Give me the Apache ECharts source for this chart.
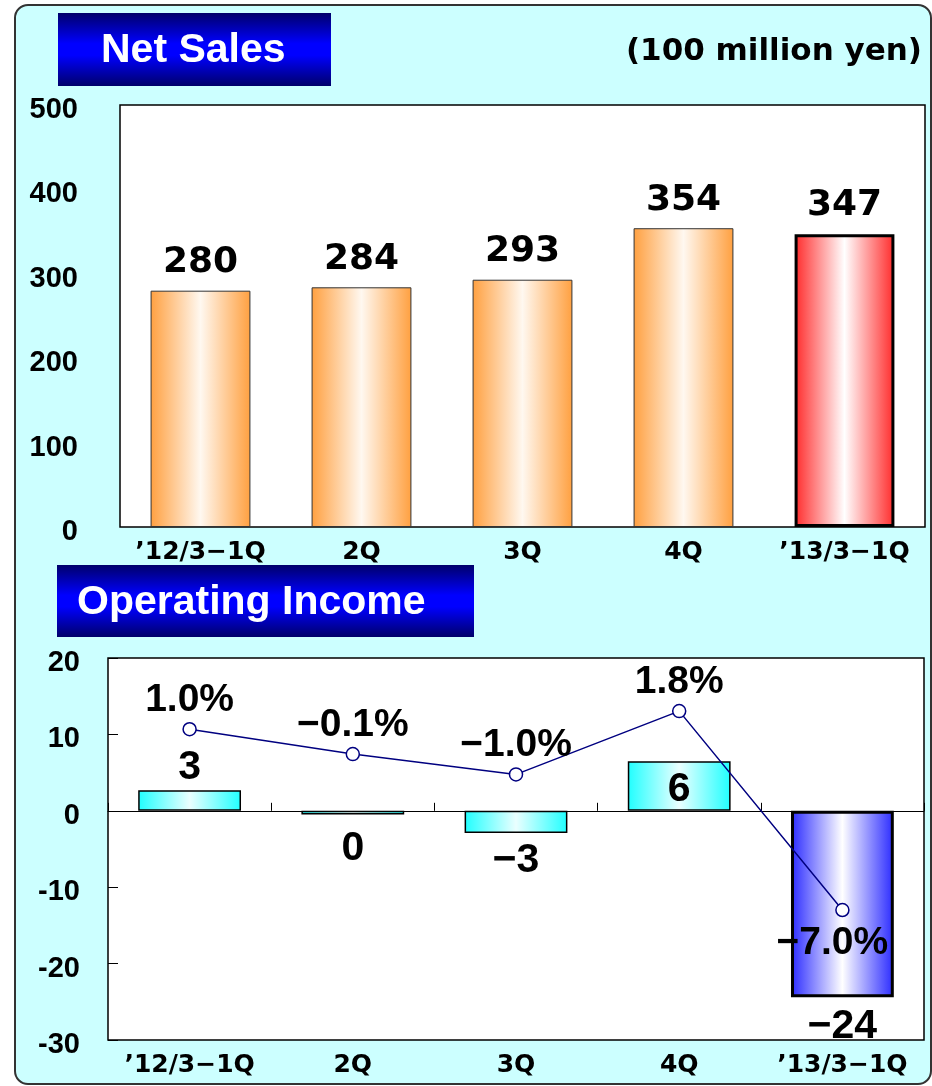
<!DOCTYPE html>
<html>
<head>
<meta charset="utf-8">
<script src="https://cdn.jsdelivr.net/npm/echarts@6/dist/echarts.min.js"></script>
<style>
  html, body { margin: 0; padding: 0; background: #fff; }
  #bg {
    position: absolute; left: 14px; top: 4px; width: 914px; height: 1077px;
    border: 2px solid #333; border-radius: 14px; background: #ccffff;
  }
  #main { position: absolute; left: 0; top: 0; width: 932px; height: 1086px; }
</style>
</head>
<body>
<div id="bg"></div>
<div id="main"></div>
<script>
// categories shared by both panels
const categories = ['’12/3−1Q', '2Q', '3Q', '4Q', '’13/3−1Q']
// net sales, 100 million yen
const netSales = [280, 284, 293, 354, 347]
// operating income, 100 million yen (bar heights) and printed labels
const opIncome = [2.7, -0.5, -2.9, 6.5, -24.4]
const opIncomeLabels = ['3', '0', '−3', '6', '−24']
// operating margin, %
const opMargin = [1.0, -0.1, -1.0, 1.8, -7.0]

const numFont = 'Liberation Sans'
const gothic = 'DejaVu Sans'

function hGrad(edge, mid) {
  return new echarts.graphic.LinearGradient(0, 0, 1, 0, [
    { offset: 0, color: edge },
    { offset: 0.5, color: mid },
    { offset: 1, color: edge }
  ])
}
function titleGrad() {
  return new echarts.graphic.LinearGradient(0, 0, 0, 1, [
    { offset: 0, color: '#00006a' },
    { offset: 0.42, color: '#0000ff' },
    { offset: 0.58, color: '#0000ff' },
    { offset: 1, color: '#00006a' }
  ])
}

// per-bar style for the sales chart, last one highlighted
const salesData = netSales.map((v, i) => {
  const last = i === netSales.length - 1
  return {
    value: v,
    itemStyle: last
      ? { color: hGrad('#ff2a2a', '#ffffff'), borderColor: '#000', borderWidth: 3 }
      : { color: hGrad('#ffa040', '#fff8f0'), borderColor: '#333', borderWidth: 1 }
  }
})

// label placement for the operating income bars
const incomeLabelPos = [
  { position: 'top', distance: 2 },
  { position: 'bottom', distance: 14 },
  { position: 'bottom', distance: 7 },
  { position: 'inside', offset: [0, 4] },
  { position: 'bottom', distance: 9 }
]
const incomeData = opIncome.map((v, i) => {
  const last = i === opIncome.length - 1
  return {
    value: v,
    label: Object.assign({ formatter: opIncomeLabels[i] }, incomeLabelPos[i]),
    itemStyle: last
      ? { color: hGrad('#2a2aff', '#ffffff'), borderColor: '#000', borderWidth: 3 }
      : { color: hGrad('#20ffff', '#eaffff'), borderColor: '#000', borderWidth: 1.5 }
  }
})

const marginData = opMargin.map((v, i) => {
  const last = i === opMargin.length - 1
  return {
    value: v,
    label: last
      ? { position: 'bottom', distance: 6, offset: [-10, 0] }
      : { position: 'top', distance: 2 }
  }
})

// y tick labels sit a few px below their tick
const yLabelRich = {
  v: { color: '#000', fontFamily: numFont, fontWeight: 'bold', fontSize: 29, padding: [10, 0, 0, 0] }
}

const chart = echarts.init(document.getElementById('main'))
chart.setOption({
  animation: false,
  backgroundColor: 'transparent',
  graphic: [
    { type: 'rect', shape: { x: 58, y: 13, width: 273, height: 73 }, style: { fill: titleGrad() } },
    { type: 'text', style: { text: 'Net Sales', x: 101, y: 51, fill: '#fff', font: 'bold 41px "Liberation Sans"', verticalAlign: 'middle' } },
    { type: 'text', style: { text: '(100 million yen)', x: 922, y: 52, fill: '#000', font: 'bold 31px "DejaVu Sans"', align: 'right', verticalAlign: 'middle' } },
    { type: 'rect', shape: { x: 57, y: 565, width: 417, height: 72 }, style: { fill: titleGrad() } },
    { type: 'text', style: { text: 'Operating Income', x: 77, y: 603, fill: '#fff', font: 'bold 41px "Liberation Sans"', verticalAlign: 'middle' } }
  ],
  grid: [
    { left: 120, top: 105, right: 7, height: 422, show: true, backgroundColor: '#fff', borderColor: '#000', borderWidth: 1.5 },
    { left: 108, top: 658, right: 8, height: 382, show: true, backgroundColor: '#fff', borderColor: '#000', borderWidth: 1.5 }
  ],
  xAxis: [
    {
      type: 'category', gridIndex: 0, data: categories,
      axisLine: { show: false }, axisTick: { show: false },
      axisLabel: { interval: 0, color: '#000', fontFamily: gothic, fontWeight: 'bold', fontSize: 25, margin: 13 }
    },
    {
      type: 'category', gridIndex: 1, data: categories, position: 'bottom',
      axisLine: { show: false, onZero: false }, axisTick: { show: false },
      axisLabel: { interval: 0, color: '#000', fontFamily: gothic, fontWeight: 'bold', fontSize: 25, margin: 13 }
    },
    {
      // zero line with upward ticks between categories
      type: 'category', gridIndex: 1, data: categories, position: 'top',
      axisLine: { show: true, onZero: true, onZeroAxisIndex: 1, lineStyle: { color: '#000', width: 1 } },
      axisTick: { show: true, interval: 0, inside: false, length: 8, lineStyle: { color: '#000' } },
      axisLabel: { show: false }
    }
  ],
  yAxis: [
    {
      type: 'value', gridIndex: 0, min: 0, max: 500, interval: 100,
      splitLine: { show: false }, axisLine: { show: false }, axisTick: { show: false },
      axisLabel: { margin: 42, formatter: '{v|{value}}', rich: yLabelRich }
    },
    {
      type: 'value', gridIndex: 1, min: -30, max: 20, interval: 10,
      splitLine: { show: false }, axisLine: { show: false },
      axisTick: { show: true, inside: true, length: 10, lineStyle: { color: '#000' } },
      axisLabel: { margin: 28, formatter: '{v|{value}}', rich: yLabelRich }
    },
    {
      // hidden scale for the margin line
      type: 'value', gridIndex: 1, min: -12.75, max: 4.15, show: false,
      splitLine: { show: false }
    }
  ],
  series: [
    {
      type: 'bar', xAxisIndex: 0, yAxisIndex: 0, barWidth: '62%',
      data: salesData,
      label: { show: true, position: 'top', distance: 10, color: '#000', fontFamily: gothic, fontWeight: 'bold', fontSize: 36 }
    },
    {
      type: 'bar', xAxisIndex: 1, yAxisIndex: 1, barWidth: '63%',
      data: incomeData,
      label: { show: true, color: '#000', fontFamily: numFont, fontWeight: 'bold', fontSize: 41 }
    },
    {
      type: 'line', xAxisIndex: 1, yAxisIndex: 2, z: 5,
      data: marginData,
      symbol: 'circle', symbolSize: 13,
      lineStyle: { color: '#000080', width: 1.5 },
      itemStyle: { color: '#fff', borderColor: '#000080', borderWidth: 1.5 },
      label: {
        show: true, color: '#000', fontFamily: numFont, fontWeight: 'bold', fontSize: 39,
        formatter: p => (p.value < 0 ? '−' : '') + Math.abs(p.value).toFixed(1) + '%'
      }
    }
  ]
})
</script>
</body>
</html>
